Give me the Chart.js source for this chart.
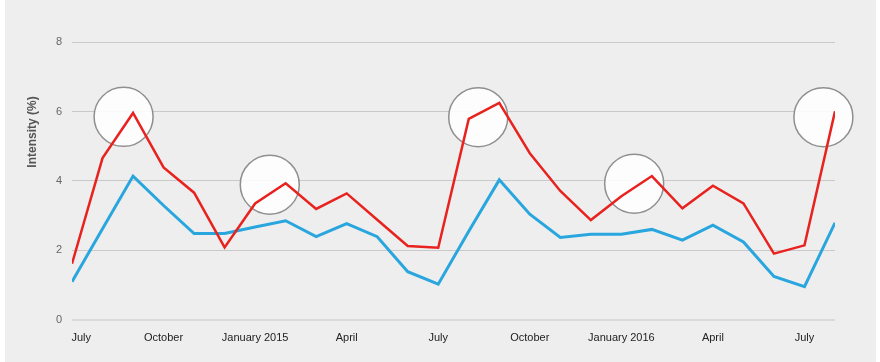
<!DOCTYPE html>
<html>
<head>
<meta charset="utf-8">
<script src="https://cdn.jsdelivr.net/npm/chart.js@4.4.1/dist/chart.umd.min.js"></script>
<style>
    body { margin: 0; background: #fff; }
    #wrap { position: absolute; left: 5px; top: 0; width: 871px; height: 362px; background: #eeeeee; }
</style>
</head>
<body>
<div id="wrap"><canvas id="myChart"></canvas></div>
<script>
// monthly values, July 2014 -> August 2016
const months = ['Jul 2014', 'Aug 2014', 'Sep 2014', 'Oct 2014', 'Nov 2014', 'Dec 2014',
    'Jan 2015', 'Feb 2015', 'Mar 2015', 'Apr 2015', 'May 2015', 'Jun 2015',
    'Jul 2015', 'Aug 2015', 'Sep 2015', 'Oct 2015', 'Nov 2015', 'Dec 2015',
    'Jan 2016', 'Feb 2016', 'Mar 2016', 'Apr 2016', 'May 2016', 'Jun 2016',
    'Jul 2016', 'Aug 2016'];
const redValues = [1.61, 4.66, 5.96, 4.39, 3.66, 2.08, 3.35, 3.93, 3.19, 3.64, 2.88, 2.12, 2.07,
    5.79, 6.25, 4.80, 3.71, 2.87, 3.56, 4.14, 3.21, 3.86, 3.35, 1.90, 2.14, 6.01];
const blueValues = [1.09, 2.62, 4.14, 3.29, 2.48, 2.48, 2.67, 2.85, 2.39, 2.77, 2.39, 1.38, 1.02,
    2.55, 4.03, 3.04, 2.37, 2.46, 2.46, 2.60, 2.29, 2.72, 2.24, 1.24, 0.95, 2.79];

// highlight circles (x in month index, y in %)
const circleX = [1.69, 6.48, 13.31, 18.42, 24.62];
const circleY = [5.85, 3.89, 5.84, 3.92, 5.84];

const tickPositions = [0, 3, 6, 9, 12, 15, 18, 21, 24];
const tickLabels = ['July', 'October', 'January 2015', 'April', 'July', 'October', 'January 2016', 'April', 'July'];
const yTicks = [0, 2, 4, 6, 8];
const yTitle = 'Intensity (%)';

const fontFamily = '"Liberation Sans", Arial, sans-serif';
Chart.defaults.font.family = fontFamily;

const redPoints = [];
const bluePoints = [];
for (let i = 0; i < months.length; i++) {
    redPoints.push({ x: i, y: redValues[i] });
    bluePoints.push({ x: i, y: blueValues[i] });
}
const circles = circleX.map((x, i) => ({ x: x, y: circleY[i] }));

const yTitlePlugin = {
    id: 'yTitlePlugin',
    afterDraw(chart) {
        const c = chart.ctx;
        c.save();
        c.translate(28, 132);
        c.rotate(-Math.PI / 2);
        c.font = 'bold 12px ' + fontFamily;
        c.fillStyle = '#555555';
        c.textAlign = 'center';
        c.textBaseline = 'middle';
        c.fillText(yTitle, 0, 0);
        c.restore();
    }
};

var ctx = document.getElementById('myChart').getContext('2d');
var myChart = new Chart(ctx, { //eslint-disable-line
    type: 'line',
    data: {
        datasets: [{
            label: 'Red',
            data: redPoints,
            borderColor: '#e8221e',
            borderWidth: 2.5,
            pointRadius: 0,
            borderJoinStyle: 'miter',
            tension: 0,
            order: 1
        },
        {
            label: 'Blue',
            data: bluePoints,
            borderColor: '#2aa6df',
            borderWidth: 3,
            pointRadius: 0,
            borderJoinStyle: 'miter',
            tension: 0,
            order: 2
        },
        {
            type: 'scatter',
            label: 'Highlights',
            data: circles,
            showLine: false,
            pointRadius: 29.5,
            pointHoverRadius: 29.5,
            pointBackgroundColor: 'rgba(255,255,255,0.88)',
            pointBorderColor: '#8f8f8f',
            pointBorderWidth: 1.5,
            clip: false,
            order: 3
        }]
    },
    options: {
        responsive: true,
        maintainAspectRatio: false,
        animation: false,
        layout: { padding: { top: 42.3, right: 41, bottom: 0, left: 0 } },
        plugins: {
            legend: { display: false },
            tooltip: { enabled: false }
        },
        scales: {
            x: {
                type: 'linear',
                min: 0,
                max: months.length - 1,
                grid: { display: false, drawTicks: false },
                border: { display: false },
                afterBuildTicks: (scale) => {
                    scale.ticks = tickPositions.map(v => ({ value: v }));
                },
                afterFit: (scale) => { scale.height = 42.5; },
                ticks: {
                    autoSkip: false,
                    maxRotation: 0,
                    padding: 12,
                    color: '#222222',
                    font: { size: 11 },
                    callback: (value, index) => index === 0 ? '      ' + tickLabels[index] : tickLabels[index]
                }
            },
            y: {
                min: 0,
                max: 8,
                grid: {
                    drawTicks: false,
                    color: (c) => c.tick && c.tick.value === 0 ? '#dadada' : '#c9c9c9',
                    lineWidth: (c) => c.tick && c.tick.value === 0 ? 2 : 1
                },
                border: { display: false },
                afterBuildTicks: (scale) => {
                    scale.ticks = yTicks.map(v => ({ value: v }));
                },
                afterFit: (scale) => { scale.width = 67; },
                ticks: {
                    padding: 10,
                    color: '#666666',
                    font: { size: 11 }
                }
            }
        }
    },
    plugins: [yTitlePlugin]
});
</script>
</body>
</html>
